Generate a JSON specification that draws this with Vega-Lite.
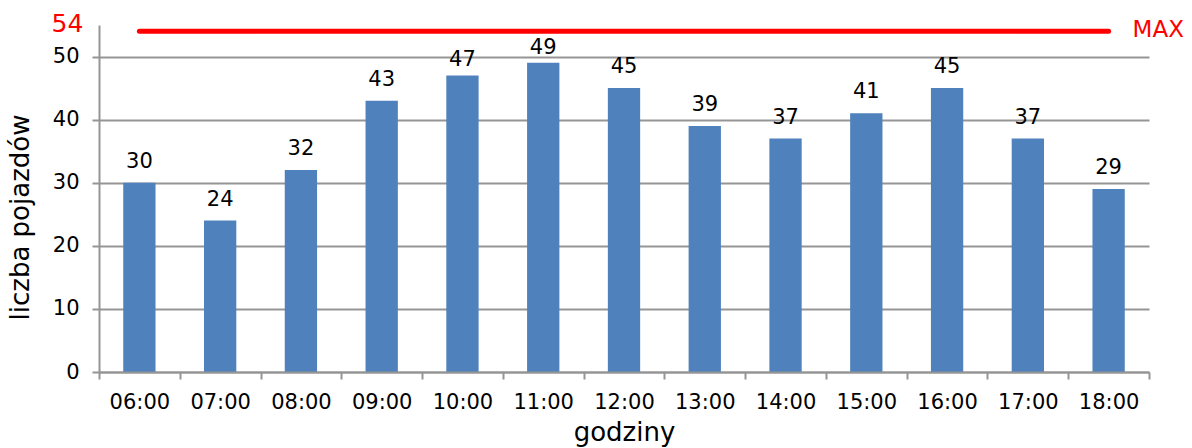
{
  "$schema": "https://vega.github.io/schema/vega-lite/v6.json",
  "width": 1050,
  "height": 347,
  "autosize": {"type": "none"},
  "padding": {"left": 99, "top": 25, "right": 43, "bottom": 76},
  "background": "white",
  "config": {"view": {"stroke": null}, "font": "DejaVu Sans"},
  "datasets": {
    "pomiary": [
      {"godzina": "06:00", "liczba": 30},
      {"godzina": "07:00", "liczba": 24},
      {"godzina": "08:00", "liczba": 32},
      {"godzina": "09:00", "liczba": 43},
      {"godzina": "10:00", "liczba": 47},
      {"godzina": "11:00", "liczba": 49},
      {"godzina": "12:00", "liczba": 45},
      {"godzina": "13:00", "liczba": 39},
      {"godzina": "14:00", "liczba": 37},
      {"godzina": "15:00", "liczba": 41},
      {"godzina": "16:00", "liczba": 45},
      {"godzina": "17:00", "liczba": 37},
      {"godzina": "18:00", "liczba": 29}
    ],
    "limit": [
      {"godzina": "06:00", "wartosc": 54, "opis": "54"},
      {"godzina": "18:00", "wartosc": 54, "opis": "MAX"}
    ]
  },
  "layer": [
    {
      "data": {"name": "pomiary"},
      "mark": {"type": "bar", "color": "#4F81BD", "width": {"band": 0.4}},
      "encoding": {
        "x": {
          "field": "godzina",
          "type": "ordinal",
          "scale": {"paddingInner": 0, "paddingOuter": 0},
          "axis": {
            "title": "godziny",
            "titleFontSize": 26,
            "titleFontWeight": "normal",
            "titleColor": "#000000",
            "titleBaseline": "alphabetic",
            "titleY": 68,
            "labelAngle": 0,
            "labelFontSize": 21,
            "labelColor": "#000000",
            "labelPadding": 12,
            "tickBand": "extent",
            "tickSize": 7,
            "tickColor": "#959595",
            "tickWidth": 2,
            "domainColor": "#959595",
            "domainWidth": 2,
            "zindex": 1
          }
        },
        "y": {
          "field": "liczba",
          "type": "quantitative",
          "scale": {"domain": [0, 55], "nice": false},
          "axis": {
            "title": "liczba pojazdów",
            "titleFontSize": 26,
            "titleFontWeight": "normal",
            "titleColor": "#000000",
            "titleAngle": -90,
            "titleAlign": "center",
            "titleBaseline": "alphabetic",
            "titleX": -71,
            "titleY": 192,
            "values": [0, 10, 20, 30, 40, 50],
            "labelFontSize": 21,
            "labelColor": "#000000",
            "labelPadding": 13,
            "tickSize": 7,
            "tickColor": "#959595",
            "tickWidth": 2,
            "domainColor": "#959595",
            "domainWidth": 2,
            "grid": true,
            "gridColor": "#959595",
            "gridWidth": 2
          }
        }
      }
    },
    {
      "data": {"name": "pomiary"},
      "transform": [{"filter": "datum.liczba <= 45"}],
      "mark": {"type": "text", "fontSize": 21, "baseline": "alphabetic", "dy": -15, "color": "#000000"},
      "encoding": {
        "x": {"field": "godzina", "type": "ordinal", "bandPosition": 0.5},
        "y": {"field": "liczba", "type": "quantitative"},
        "text": {"field": "liczba", "type": "quantitative"}
      }
    },
    {
      "data": {"name": "pomiary"},
      "transform": [{"filter": "datum.liczba > 45"}],
      "mark": {"type": "text", "fontSize": 21, "baseline": "alphabetic", "dy": -9, "color": "#000000"},
      "encoding": {
        "x": {"field": "godzina", "type": "ordinal", "bandPosition": 0.5},
        "y": {"field": "liczba", "type": "quantitative"},
        "text": {"field": "liczba", "type": "quantitative"}
      }
    },
    {
      "data": {"name": "limit"},
      "mark": {"type": "line", "color": "#FF0000", "strokeWidth": 5, "strokeCap": "round"},
      "encoding": {
        "x": {"field": "godzina", "type": "ordinal", "bandPosition": 0.5},
        "y": {"field": "wartosc", "type": "quantitative"}
      }
    },
    {
      "data": {"name": "limit"},
      "transform": [{"filter": "datum.opis == '54'"}],
      "mark": {"type": "text", "fontSize": 25, "align": "right", "baseline": "alphabetic", "dx": -56, "dy": 1, "color": "#FF0000"},
      "encoding": {
        "x": {"field": "godzina", "type": "ordinal", "bandPosition": 0.5},
        "y": {"field": "wartosc", "type": "quantitative"},
        "text": {"field": "opis", "type": "nominal"}
      }
    },
    {
      "data": {"name": "limit"},
      "transform": [{"filter": "datum.opis == 'MAX'"}],
      "mark": {"type": "text", "fontSize": 23, "align": "left", "baseline": "alphabetic", "dx": 24, "dy": 6, "color": "#FF0000"},
      "encoding": {
        "x": {"field": "godzina", "type": "ordinal", "bandPosition": 0.5},
        "y": {"field": "wartosc", "type": "quantitative"},
        "text": {"field": "opis", "type": "nominal"}
      }
    }
  ]
}
